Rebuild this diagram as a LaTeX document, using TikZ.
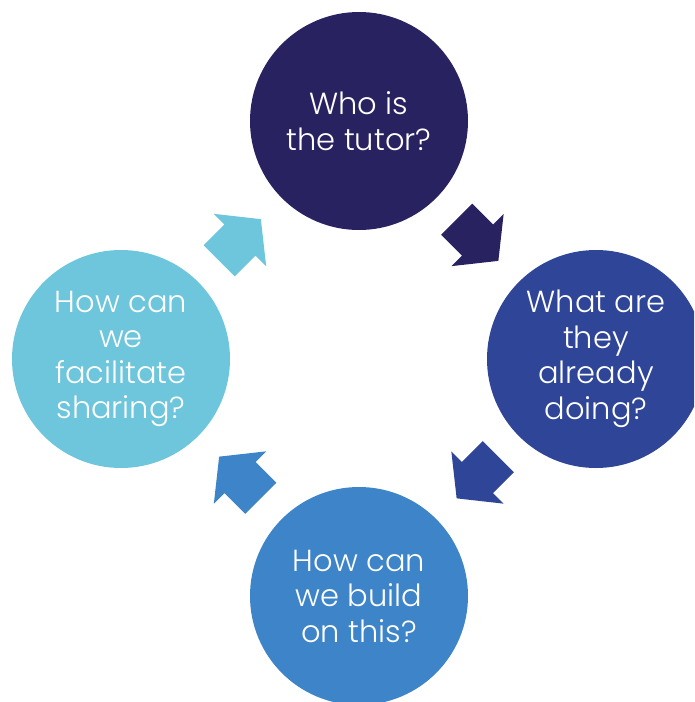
\documentclass[tikz,border=0pt]{standalone}
\usepackage{fontspec}
\setmainfont{Poppins}[UprightFont=* Light]
\usetikzlibrary{calc}
\definecolor{cnavy}{HTML}{292261}
\definecolor{croyal}{HTML}{2E4598}
\definecolor{cblue}{HTML}{3E84C8}
\definecolor{ccyan}{HTML}{6DC6DB}
\tikzset{
  x=1pt, y=1pt,
  stage/.style={circle, minimum size=218pt, inner sep=0pt, text=white,
    align=center, font=\fontsize{30.5}{35.5}\selectfont},
  blockarrow/.pic={
    \path[pic actions] (-29.5,22) -- (0,22) -- (0,37) -- (29.5,0)
      -- (0,-37) -- (0,-22) -- (-29.5,-22) -- cycle;
  }
}
\begin{document}
\begin{tikzpicture}
  \clip (0,0) rectangle (694,-702);
  % four stages of the cycle
  \node[stage, fill=cnavy]  (tutor) at (359,-121) {Who is\\the tutor?};
  \node[stage, fill=croyal] (doing) at (596,-359) {What are\\they\\already\\doing?};
  \node[stage, fill=cblue]  (build) at (359,-596) {How can\\we build\\on this?};
  \node[stage, fill=ccyan]  (share) at (121,-359) {How can\\we\\facilitate\\sharing?};
  % block arrows between consecutive stages
  \pic[fill=cnavy, rotate=-45]  at ($(tutor)!0.5!(doing)$) {blockarrow};
  \pic[fill=croyal, rotate=-135] at ($(doing)!0.5!(build)$) {blockarrow};
  \pic[fill=cblue, rotate=135]   at ($(build)!0.5!(share)$) {blockarrow};
  \pic[fill=ccyan, rotate=45]    at ($(share)!0.5!(tutor)$) {blockarrow};
\end{tikzpicture}
\end{document}
